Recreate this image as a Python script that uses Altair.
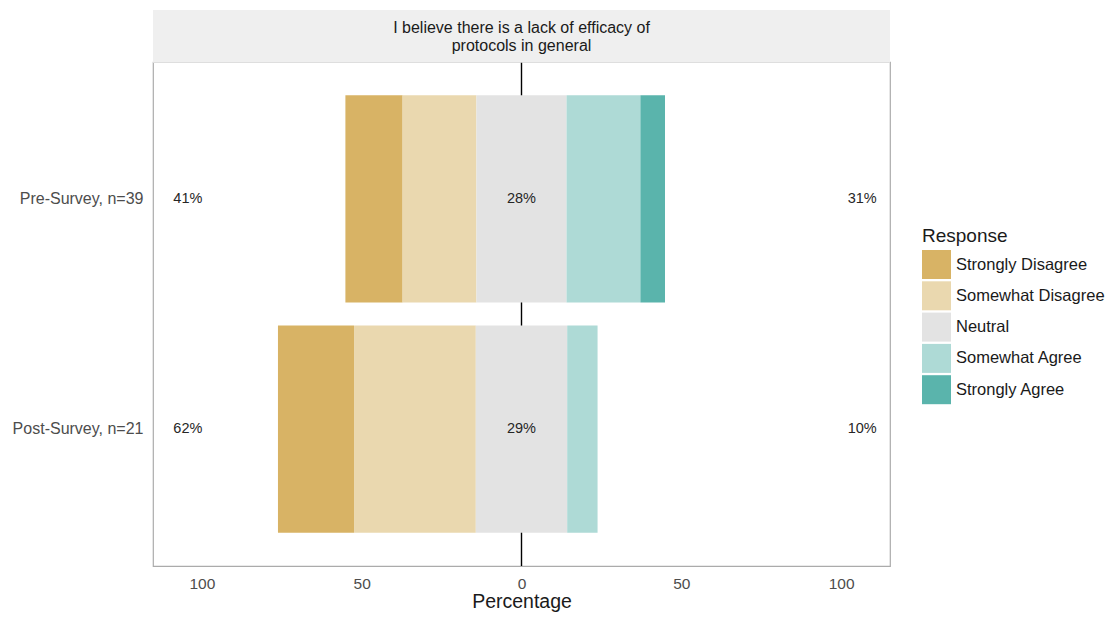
import altair as alt
import pandas as pd

# ---- data ----
groups = ["Pre-Survey, n=39", "Post-Survey, n=21"]
responses = ["Strongly Disagree", "Somewhat Disagree", "Neutral", "Somewhat Agree", "Strongly Agree"]
colors = ["#D8B365", "#EAD8AF", "#E3E3E3", "#AEDAD6", "#5AB4AC"]
pre_values = [17.9, 23.1, 28.2, 23.1, 7.7]
post_values = [23.8, 38.1, 28.6, 9.5, 0.0]
low_labels = ["41%", "62%"]
neutral_labels = ["28%", "29%"]
high_labels = ["31%", "10%"]
strip_title = ["I believe there is a lack of efficacy of", "protocols in general"]

# ---- layout constants ----
W, H = 737, 504
XMAX = 115.3
LOW_X, HIGH_X = -104.4, 106.6
FONT = "Liberation Sans, Arial, sans-serif"

# build diverging stacked segments (neutral centred on 0)
rows = []
for g, vals in zip(groups, [pre_values, post_values]):
    start = -(vals[0] + vals[1] + vals[2] / 2.0)
    for r, v in zip(responses, vals):
        rows.append({"Group": g, "Response": r, "x0": start, "x1": start + v})
        start += v
bars_df = pd.DataFrame(rows)

label_rows = []
for i, g in enumerate(groups):
    label_rows.append({"Group": g, "pos": LOW_X, "label": low_labels[i]})
    label_rows.append({"Group": g, "pos": 0.0, "label": neutral_labels[i]})
    label_rows.append({"Group": g, "pos": HIGH_X, "label": high_labels[i]})
labels_df = pd.DataFrame(label_rows)

xscale = alt.Scale(domain=[-XMAX, XMAX], nice=False, zero=False)
yscale = alt.Scale(paddingInner=0.1, paddingOuter=0.145)

x_axis = alt.Axis(
    values=[-100, -50, 0, 50, 100],
    labelExpr="abs(datum.value)",
    ticks=False, grid=False, domain=False,
    labelFont=FONT, labelFontSize=15.5, labelColor="#4D4D4D", labelPadding=10,
    title="Percentage", titleFont=FONT, titleFontSize=19.5, titleFontWeight="normal",
    titleColor="#1A1A1A", titlePadding=1,
)
y_axis = alt.Axis(
    title=None, ticks=False, grid=False, domain=False,
    labelFont=FONT, labelFontSize=16, labelColor="#4D4D4D", labelPadding=10,
)

rule = alt.Chart(pd.DataFrame({"z": [0.0]})).mark_rule(color="black", strokeWidth=1.4).encode(
    x=alt.X("z:Q", scale=xscale, axis=x_axis)
)

bars = alt.Chart(bars_df).mark_bar(strokeWidth=0).encode(
    x=alt.X("x0:Q", scale=xscale, axis=x_axis),
    x2="x1:Q",
    y=alt.Y("Group:N", sort=groups, scale=yscale, axis=y_axis),
    color=alt.Color(
        "Response:N",
        scale=alt.Scale(domain=responses, range=colors),
        legend=alt.Legend(
            title="Response", orient="none", legendX=769, legendY=165,
            titleFont=FONT, titleFontSize=19, titleFontWeight="normal", titleColor="#1A1A1A",
            titlePadding=4,
            labelFont=FONT, labelFontSize=16.5, labelColor="#1A1A1A", labelOffset=5,
            symbolType="square", symbolSize=841, symbolStrokeWidth=0, symbolOpacity=1,
            rowPadding=2.3,
        ),
    ),
)

texts = alt.Chart(labels_df).mark_text(font=FONT, fontSize=14.5, color="#262626").encode(
    x=alt.X("pos:Q", scale=xscale, axis=x_axis),
    y=alt.Y("Group:N", sort=groups, scale=yscale, axis=y_axis),
    text="label:N",
)

strip_bg = alt.Chart(pd.DataFrame({"z": [0]})).mark_rect(color="#EFEFEF").encode(
    x=alt.value(0), x2=alt.value(W), y=alt.value(-52), y2=alt.value(0.8)
)
strip_text = alt.Chart(pd.DataFrame({"z": [0]})).mark_text(
    font=FONT, fontSize=16, color="#1A1A1A", baseline="middle", align="center", lineHeight=18
).encode(x=alt.value(W / 2), y=alt.value(-34), text=alt.value(strip_title))

chart = alt.layer(rule, bars, texts, strip_bg, strip_text).properties(
    width=W, height=H,
    autosize=alt.AutoSizeParams(type="none"),
    padding={"left": 145, "top": 54, "right": 222, "bottom": 48},
).configure_view(stroke="#ABABAB", strokeWidth=1.2)

chart.save("out.html", embed_options={"renderer": "svg", "actions": False})
